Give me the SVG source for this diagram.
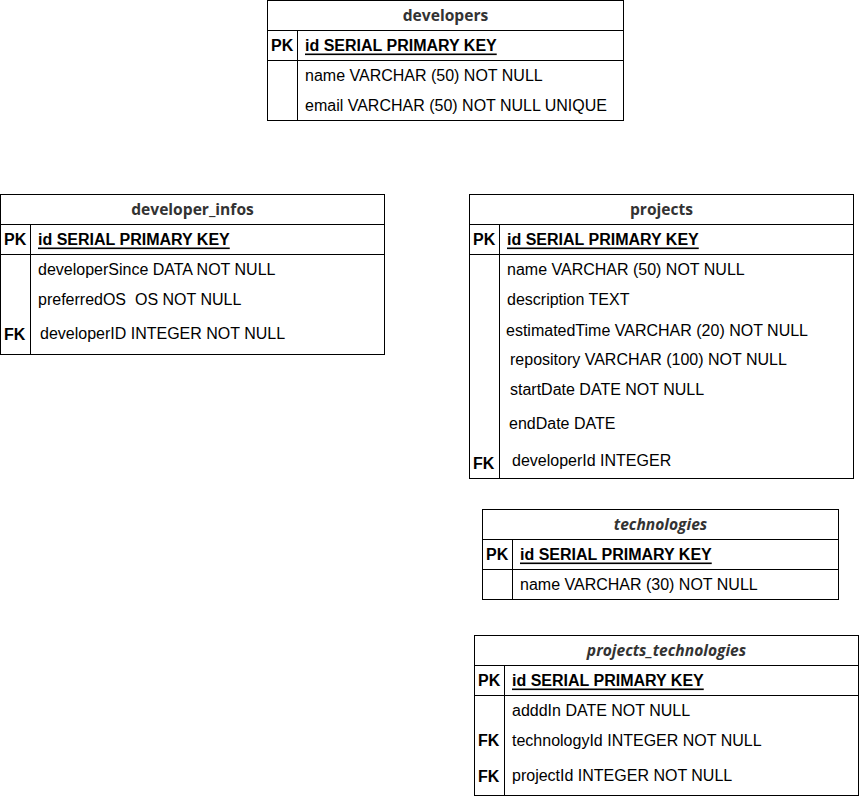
<svg xmlns="http://www.w3.org/2000/svg" width="859" height="796" viewBox="0 0 859 796">
<style>
.box{fill:#fff;stroke:#000;stroke-width:1}
.ln{stroke:#000;stroke-width:1;fill:none}
.title{font-family:"Open Sans",sans-serif;font-weight:bold;font-size:15.6px;fill:#333;text-anchor:middle;dominant-baseline:central}
.it{font-style:italic}
.key{font-family:"Liberation Sans",Arial,sans-serif;font-weight:bold;font-size:16px;fill:#000;dominant-baseline:central}
.pk{text-decoration:underline}
.f{font-family:"Liberation Sans",Arial,sans-serif;font-size:16px;fill:#000;dominant-baseline:central}
</style>
<rect width="859" height="796" fill="#fff"/>
<g id="connectors"></g>
<g id="developers">
<rect class="box" x="267.5" y="0.5" width="356" height="120"/>
<path class="ln" d="M267.5 30.5H623.5M267.5 60.5H623.5M297.5 30.5V120.5"/>
<text class="title" x="445.5" y="15">developers</text>
<text class="key" x="271" y="45">PK</text>
<text class="key pk" x="305" y="45">id SERIAL PRIMARY KEY</text>
<text class="f" x="305" y="75">name VARCHAR (50) NOT NULL</text>
<text class="f" x="305" y="105">email VARCHAR (50) NOT NULL UNIQUE</text>
</g>
<g id="developer_infos">
<rect class="box" x="0.5" y="194.5" width="384" height="160"/>
<path class="ln" d="M0.5 224.5H384.5M0.5 254.5H384.5M30.5 224.5V354.5"/>
<text class="title" x="192.5" y="209">developer_infos</text>
<text class="key" x="4" y="239">PK</text>
<text class="key pk" x="38" y="239">id SERIAL PRIMARY KEY</text>
<text class="f" x="38" y="269">developerSince DATA NOT NULL</text>
<text class="f" x="38" y="299" xml:space="preserve">preferredOS  OS NOT NULL</text>
<text class="key" x="4" y="334">FK</text>
<text class="f" x="40" y="333">developerID INTEGER NOT NULL</text>
</g>
<g id="projects">
<rect class="box" x="469.5" y="194.5" width="384" height="284"/>
<path class="ln" d="M469.5 224.5H853.5M469.5 254.5H853.5M499.5 224.5V478.5"/>
<text class="title" x="661.5" y="209">projects</text>
<text class="key" x="473" y="239">PK</text>
<text class="key pk" x="507" y="239">id SERIAL PRIMARY KEY</text>
<text class="f" x="507" y="269">name VARCHAR (50) NOT NULL</text>
<text class="f" x="507" y="299">description TEXT</text>
<text class="f" x="506" y="330">estimatedTime VARCHAR (20) NOT NULL</text>
<text class="f" x="510" y="359">repository VARCHAR (100) NOT NULL</text>
<text class="f" x="510" y="389">startDate DATE NOT NULL</text>
<text class="f" x="509" y="423">endDate DATE</text>
<text class="key" x="473" y="463">FK</text>
<text class="f" x="512" y="460">developerId INTEGER</text>
</g>
<g id="technologies">
<rect class="box" x="482.5" y="509.5" width="356" height="90"/>
<path class="ln" d="M482.5 539.5H838.5M482.5 569.5H838.5M512.5 539.5V599.5"/>
<text class="title it" x="660.5" y="524">technologies</text>
<text class="key" x="486" y="554">PK</text>
<text class="key pk" x="520" y="554">id SERIAL PRIMARY KEY</text>
<text class="f" x="520" y="584">name VARCHAR (30) NOT NULL</text>
</g>
<g id="projects_technologies">
<rect class="box" x="474.5" y="635.5" width="384" height="160"/>
<path class="ln" d="M474.5 665.5H858.5M474.5 695.5H858.5M504.5 665.5V795.5"/>
<text class="title it" x="666.5" y="650">projects_technologies</text>
<text class="key" x="478" y="680">PK</text>
<text class="key pk" x="512" y="680">id SERIAL PRIMARY KEY</text>
<text class="f" x="512" y="710">adddIn DATE NOT NULL</text>
<text class="key" x="478" y="740">FK</text>
<text class="f" x="512" y="740">technologyId INTEGER NOT NULL</text>
<text class="key" x="478" y="776">FK</text>
<text class="f" x="512" y="775">projectId INTEGER NOT NULL</text>
</g>
</svg>
